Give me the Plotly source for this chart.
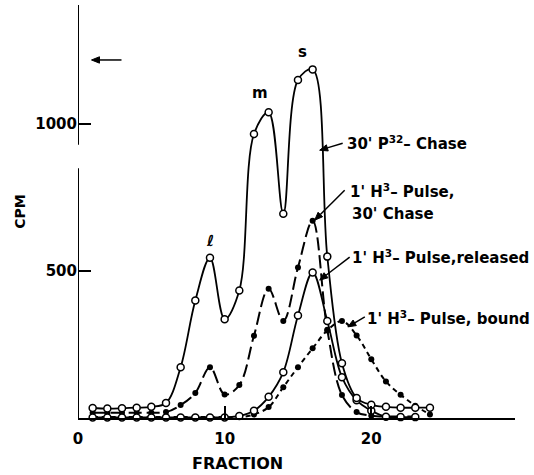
import math
import plotly.graph_objects as go

# Sucrose-gradient fractions and counts (CPM) for the four runs
fractions = list(range(1, 25))

p32_chase = [34, 32, 33, 35, 38, 51, 173, 400, 545, 336, 434, 966,
             1040, 695, 1150, 1186, 549, 186, 68, 45, 38, 35, 35, 35]

h3_pulse_chase = [18, 18, 18, 18, 18, 20, 44, 85, 173, 80, 112, 280,
                  440, 330, 512, 671, 300, 78, 20, 8, 5, 5, 5]

h3_pulse_released = [2, 2, 2, 2, 2, 2, 2, 2, 2, 2, 7, 25,
                     72, 156, 349, 495, 330, 139, 60, 25, 4, 3, 3]

h3_pulse_bound = [3, 3, 3, 3, 3, 3, 3, 3, 3, 3, 3, 12,
                  37, 105, 173, 237, 298, 330, 281, 200, 124, 79, 42, 12]

x_ticks = [0, 10, 20]
y_ticks = [500, 1000]

FONT = "DejaVu Sans"
INK = "black"

W, H = 534, 475
M_L, M_R, M_T, M_B = 78, 19, 5, 57
X_RANGE = [0, 29.8]
Y_RANGE = [0, 1405]
# pixels per data unit, used to size the arrowheads
SX = (W - M_L - M_R) / (X_RANGE[1] - X_RANGE[0])
SY = (H - M_T - M_B) / (Y_RANGE[1] - Y_RANGE[0])

fig = go.Figure()

def open_series(y, name):
    n = len(y)
    fig.add_trace(go.Scatter(
        x=fractions[:n], y=y, name=name, mode="lines+markers",
        line=dict(color=INK, width=1.8, shape="spline", smoothing=1.0),
        marker=dict(symbol="circle", size=7, color="white",
                    line=dict(color=INK, width=1.5)),
        cliponaxis=False, showlegend=False))

def closed_series(y, name, dash):
    n = len(y)
    fig.add_trace(go.Scatter(
        x=fractions[:n], y=y, name=name, mode="lines+markers",
        line=dict(color=INK, width=2, dash=dash, shape="spline", smoothing=1.0),
        marker=dict(symbol="circle", size=6, color=INK),
        cliponaxis=False, showlegend=False))

closed_series(h3_pulse_bound, "1' H3 pulse, bound", "5px,4px")
closed_series(h3_pulse_chase, "1' H3 pulse, 30' chase", "13px,5px")
open_series(h3_pulse_released, "1' H3 pulse, released")
open_series(p32_chase, "30' P32 chase")

# broken ordinate drawn as two segments
shapes = [
    dict(type="line", xref="x", yref="y", x0=0, x1=0, y0=0, y1=850,
         line=dict(color=INK, width=2)),
    dict(type="line", xref="x", yref="y", x0=0, x1=0, y0=930, y1=Y_RANGE[1],
         line=dict(color=INK, width=2)),
]

def arrow(x, y, ax, ay, head_len=8, head_w=3.2):
    """Pointer from a pixel offset (ax, ay) to the data point (x, y)."""
    tx, ty = x + ax / SX, y - ay / SY
    length = math.hypot(ax, ay)
    ux, uy = -ax / length, ay / length          # unit vector tail -> tip, y up
    bx, by = -head_len * ux, -head_len * uy     # back along the shaft
    px, py = -uy * head_w, ux * head_w          # perpendicular
    p1 = (x, y)
    p2 = (x + (bx + px) / SX, y + (by + py) / SY)
    p3 = (x + (bx - px) / SX, y + (by - py) / SY)
    neck = (x + bx / SX, y + by / SY)
    shapes.append(dict(type="line", xref="x", yref="y", x0=tx, y0=ty,
                       x1=neck[0], y1=neck[1], line=dict(color=INK, width=1.5)))
    path = "M {} {} L {} {} L {} {} Z".format(p1[0], p1[1], p2[0], p2[1],
                                              p3[0], p3[1])
    shapes.append(dict(type="path", xref="x", yref="y", path=path,
                       fillcolor=INK, line=dict(color=INK, width=1)))

annotations = []

def label(x, y, text, size=15, anchor="left"):
    annotations.append(dict(x=x, y=y, xref="x", yref="y", text=text,
                            showarrow=False, xanchor=anchor, yanchor="middle",
                            font=dict(family=FONT, size=size, color=INK,
                                      weight="bold")))

label(18.19, 935, "30' P<sup>32</sup>– Chase")
label(18.4, 772, "1' H<sup>3</sup>– Pulse,")
label(18.53, 694, "30' Chase")
label(18.53, 548, "1' H<sup>3</sup>– Pulse,released")
label(19.56, 340, "1' H<sup>3</sup>– Pulse, bound")

label(8.99, 602, "ℓ", anchor="center")
label(12.39, 1105, "m", anchor="center")
label(15.3, 1245, "s", anchor="center")

arrow(16.48, 911, 23, -7)
arrow(16.14, 673, 30, -30)
arrow(16.48, 469, 30, -23)
arrow(18.4, 310, 17, -10)
arrow(0.92, 1218, 30, 0)

# axis titles
annotations.append(dict(x=0.366, y=-0.109, xref="paper", yref="paper",
                        text="FRACTION", showarrow=False,
                        xanchor="center", yanchor="middle",
                        font=dict(family=FONT, size=16, color=INK, weight="bold")))
annotations.append(dict(x=-0.133, y=0.499, xref="paper", yref="paper",
                        text="CPM", showarrow=False, textangle=-90,
                        xanchor="center", yanchor="middle",
                        font=dict(family=FONT, size=14, color=INK, weight="bold")))

tfont = dict(family=FONT, size=15, color=INK, weight="bold")

fig.update_layout(
    width=W, height=H,
    margin=dict(l=M_L, r=M_R, t=M_T, b=M_B),
    paper_bgcolor="white", plot_bgcolor="white",
    shapes=shapes, annotations=annotations,
    xaxis=dict(range=X_RANGE, showgrid=False, zeroline=False,
               showline=True, linecolor=INK, linewidth=2,
               tickvals=x_ticks, ticktext=[str(v) for v in x_ticks],
               ticks="inside", ticklen=12, tickwidth=1.5, tickcolor=INK,
               tickfont=tfont, ticklabelstandoff=6),
    yaxis=dict(range=Y_RANGE, showgrid=False, zeroline=False,
               showline=False,
               tickvals=y_ticks, ticktext=[str(v) for v in y_ticks],
               ticks="inside", ticklen=13, tickwidth=1.5, tickcolor=INK,
               tickfont=tfont),
)

fig.write_html("out.html")
